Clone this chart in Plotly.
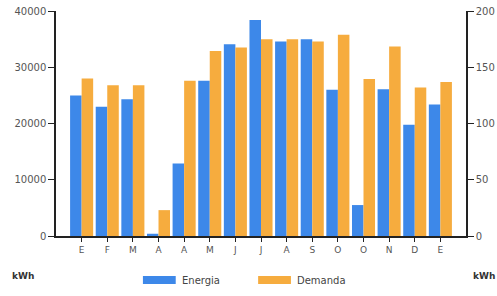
import plotly.graph_objects as go

months = ["E", "F", "M", "A", "A", "M", "J", "J", "A", "S", "O", "O", "N", "D", "E"]
energia = [25000, 23000, 24300, 400, 12900, 27600, 34100, 38400, 34600, 35000, 26000, 5500, 26100, 19800, 23400]
demanda = [28000, 26800, 26800, 4600, 27600, 32900, 33500, 35000, 35000, 34600, 35800, 27900, 33700, 26400, 27400]
left_ticks = [0, 10000, 20000, 30000, 40000]
right_ticks = [0, 50, 100, 150, 200]

BLUE = "#3D88E9"
ORANGE = "#F6AC3E"
FONT = "DejaVu Sans"
pos = list(range(len(months)))

fig = go.Figure()
fig.add_trace(go.Bar(x=pos, y=energia, name="Energia", marker=dict(color=BLUE, line=dict(width=0))))
fig.add_trace(go.Bar(x=pos, y=demanda, name="Demanda", marker=dict(color=ORANGE, line=dict(width=0))))
fig.add_trace(go.Scatter(x=[None], y=[None], yaxis="y2", showlegend=False, hoverinfo="skip"))

axis_common = dict(
    showline=True, linecolor="#222222", linewidth=1.5,
    ticks="outside", tickcolor="#222222",
    showgrid=False, zeroline=False, automargin=False,
)

fig.update_layout(
    width=497, height=296,
    margin=dict(l=56, r=31, t=11, b=60),
    paper_bgcolor="white", plot_bgcolor="white",
    barmode="group", bargap=0.1, bargroupgap=0,
    showlegend=False,
    font=dict(family=FONT, size=10, color="#333333"),
    xaxis=dict(range=[-1, len(months)], tickmode="array", tickvals=pos, ticktext=months,
               ticklen=4, tickfont=dict(size=9, color="#555555"), **axis_common),
    yaxis=dict(range=[0, 40000], tickvals=left_ticks, ticktext=[str(v) for v in left_ticks],
               ticklen=6, tickfont=dict(size=10, color="#555555"), **axis_common),
    yaxis2=dict(overlaying="y", side="right", range=[0, 200],
                tickvals=right_ticks, ticktext=[str(v) for v in right_ticks],
                ticklen=6, tickfont=dict(size=10, color="#555555"), **axis_common),
)

# custom legend (wide swatches) below the plot
legend_items = [("Energia", BLUE, 0.212), ("Demanda", ORANGE, 0.493)]
for name, color, x0 in legend_items:
    fig.add_shape(type="rect", xref="paper", yref="paper",
                  x0=x0, x1=x0 + 0.08, y0=-0.213, y1=-0.178,
                  fillcolor=color, line=dict(width=0))
    fig.add_annotation(text=name, xref="paper", yref="paper", x=x0 + 0.09, y=-0.196,
                       xanchor="left", yanchor="middle", showarrow=False,
                       font=dict(size=10, color="#444444"))

fig.add_annotation(text="<b>kWh</b>", xref="paper", yref="paper", x=-0.112, y=-0.178,
                   xanchor="left", yanchor="middle", showarrow=False,
                   font=dict(size=9, color="#333333"))
fig.add_annotation(text="<b>kWh</b>", xref="paper", yref="paper", x=1.0756, y=-0.178,
                   xanchor="right", yanchor="middle", showarrow=False,
                   font=dict(size=9, color="#333333"))

fig.write_html("out.html", config={"displayModeBar": False},
               post_script="document.body.style.margin='0';document.body.style.overflow='hidden';")
